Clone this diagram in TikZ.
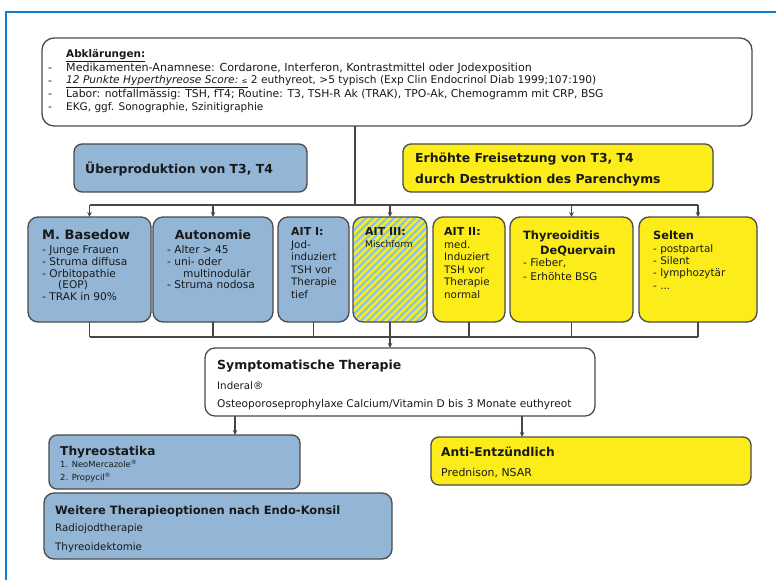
\documentclass[tikz,border=0pt]{standalone}
\usepackage{fontspec}
\setmainfont{DejaVu Sans}
\usetikzlibrary{arrows.meta}
\definecolor{boxblue}{RGB}{147,181,214}
\definecolor{boxyellow}{RGB}{252,236,25}
\definecolor{edgegray}{RGB}{75,75,75}
\definecolor{linegray}{RGB}{70,70,70}
\definecolor{stripeblue}{RGB}{140,198,222}
\definecolor{frameblue}{RGB}{15,125,210}
\definecolor{txtc}{RGB}{25,25,25}
\newcounter{txln}
\newcommand\txl[4]{\stepcounter{txln}\node[tl,font=#1] (txl\arabic{txln}) at (#2,#3) {#4};}
\newcommand\fs[1]{\fontsize{#1}{#1}\selectfont}
\begin{document}
\begin{tikzpicture}[x=1pt,y=-1pt,
  box/.style={draw=edgegray,line width=1.3pt,rounded corners=10pt,anchor=north west,inner sep=0pt,outer sep=0pt},
  bb/.style={box,fill=boxblue},
  yb/.style={box,fill=boxyellow},
  wb/.style={box,fill=white},
  conn/.style={draw=linegray,line width=1.1pt},
  arr/.style={conn,-{Stealth[length=5pt,width=4.5pt]}},
  tl/.style={anchor=base west,inner sep=0pt,text=txtc},
]
\useasboundingbox (0,0) rectangle (776,580);
\fill[white] (0,0) rectangle (776,580);
\draw[frameblue,line width=1.6pt] (6,580) -- (6,12) -- (776,12);

% boxes
\node[wb,rounded corners=12pt,minimum width=710pt,minimum height=88pt] (abk) at (42,38) {};
\node[bb,rounded corners=8pt,minimum width=233pt,minimum height=48pt] (ueber) at (74,144) {};
\node[yb,rounded corners=8pt,minimum width=310pt,minimum height=48pt] (erh) at (403,144) {};

\node[bb,minimum width=123pt,minimum height=105pt] (basedow) at (28,217) {};
\node[bb,minimum width=120pt,minimum height=105pt] (autonomie) at (153,217) {};
\node[bb,minimum width=71pt,minimum height=105pt] (aiti) at (278,217) {};
\node[yb,minimum width=74pt,minimum height=105pt,
  path picture={\foreach \i in {-112,-105,...,80}{\draw[stripeblue,line width=2.4pt] ([xshift=\i pt]path picture bounding box.south west) -- ++(130pt,130pt);}}] (aitiii) at (353,217) {};
\node[yb,minimum width=72pt,minimum height=105pt] (aitii) at (433,217) {};
\node[yb,minimum width=123pt,minimum height=105pt] (thyr) at (510,217) {};
\node[yb,minimum width=118pt,minimum height=105pt] (selten) at (639,217) {};

\node[wb,minimum width=390pt,minimum height=68pt] (symp) at (205,348) {};
\node[bb,rounded corners=8pt,minimum width=251pt,minimum height=54pt] (thyreo) at (49,435) {};
\node[bb,minimum width=348pt,minimum height=66pt] (weitere) at (44,493) {};
\node[yb,rounded corners=8pt,minimum width=320pt,minimum height=48pt] (anti) at (431,437) {};

% connectors
\coordinate (j1) at (355,205);
\draw[conn] (abk.south -| j1) -- (j1);
\draw[conn] (basedow.north |- j1) -- (selten.north |- j1);
\foreach \n in {basedow,autonomie,aitiii,thyr,selten} \draw[arr] (\n.north |- j1) -- (\n.north);

\coordinate (j2) at (390,337);
\foreach \n in {basedow,autonomie,aiti,aitii,thyr,selten} \draw[conn] (\n.south) -- (\n.south |- j2);
\draw[conn] (basedow.south |- j2) -- (selten.south |- j2);
\draw[arr] (aitiii.south) -- (symp.north -| aitiii.south);

\coordinate (a1) at (235,0);
\coordinate (a2) at (522,0);
\draw[arr] (symp.south -| a1) -- (thyreo.north -| a1);
\draw[arr] (symp.south -| a2) -- (anti.north -| a2);

% texts: Abklaerungen
\txl{\bfseries\fs{10.4}}{66}{58}{\underline{Abklärungen:}}
\txl{\fs{10.8}}{48}{71.5}{-}
\txl{\fs{11.1}}{66}{71.5}{Medikamenten-Anamnese: Cordarone, Interferon, Kontrastmittel oder Jodexposition}
\txl{\fs{10.8}}{48}{84.5}{-}
\txl{\fs{10.6}}{66}{84}{\underline{\textit{12 Punkte Hyperthyreose Score:}~{\fs{7}≤}} 2 euthyreot, >5 typisch (Exp Clin Endocrinol Diab 1999;107:190)}
\txl{\fs{10.8}}{48}{98}{-}
\txl{\fs{10.8}}{66}{98}{Labor: notfallmässig: TSH, fT4; Routine: T3, TSH-R Ak (TRAK), TPO-Ak, Chemogramm mit CRP, BSG}
\txl{\fs{10.8}}{48}{111}{-}
\txl{\fs{10.5}}{66}{111}{EKG, ggf. Sonographie, Szinitigraphie}

% headers
\txl{\bfseries\fs{12.4}}{85}{173.5}{Überproduktion von T3, T4}
\txl{\bfseries\fs{12.4}}{415}{162.5}{Erhöhte Freisetzung von T3, T4}
\txl{\bfseries\fs{12.4}}{415}{183.5}{durch Destruktion des Parenchyms}

% Basedow
\txl{\bfseries\fs{13}}{42}{239}{M. Basedow}
\txl{\fs{10.6}}{42}{253}{- Junge Frauen}
\txl{\fs{10.6}}{42}{265}{- Struma diffusa}
\txl{\fs{10.6}}{42}{277}{- Orbitopathie}
\txl{\fs{10.6}}{58}{288.5}{(EOP)}
\txl{\fs{10.6}}{42}{300}{- TRAK in 90\%}

% Autonomie
\node[tl,anchor=base,font=\bfseries\fs{12.5}] (autot) at (213,239) {Autonomie};
\txl{\fs{10.6}}{167}{253}{- Alter > 45}
\txl{\fs{10.6}}{167}{265}{- uni- oder}
\txl{\fs{10.6}}{183}{277}{multinodulär}
\txl{\fs{10.6}}{167}{288.5}{- Struma nodosa}

% AIT I
\txl{\bfseries\fs{11}}{291}{236}{AIT I:}
\txl{\fs{10.3}}{291}{248}{Jod-}
\txl{\fs{10.3}}{291}{260.6}{induziert}
\txl{\fs{10.3}}{291}{273.2}{TSH vor}
\txl{\fs{10.3}}{291}{285.8}{Therapie}
\txl{\fs{10.3}}{291}{298.4}{tief}

% AIT III
\txl{\bfseries\fs{11}}{365}{236}{AIT III:}
\txl{\fs{9.2}}{365}{247}{Mischform}

% AIT II
\txl{\bfseries\fs{11}}{444}{236}{AIT II:}
\txl{\fs{10.3}}{444}{248}{med.}
\txl{\fs{10.3}}{444}{260.6}{Induziert}
\txl{\fs{10.3}}{444}{273.2}{TSH vor}
\txl{\fs{10.3}}{444}{285.8}{Therapie}
\txl{\fs{10.3}}{444}{298.4}{normal}

% Thyreoiditis
\txl{\bfseries\fs{11.4}}{523}{239}{Thyreoiditis}
\txl{\bfseries\fs{11.4}}{540}{254}{DeQuervain}
\txl{\fs{10.6}}{523}{266}{- Fieber,}
\txl{\fs{10.6}}{523}{280.5}{- Erhöhte BSG}

% Selten
\txl{\bfseries\fs{11.3}}{653}{239}{Selten}
\txl{\fs{10.4}}{653}{252}{- postpartal}
\txl{\fs{10.4}}{653}{264.5}{- Silent}
\txl{\fs{10.4}}{653}{276.5}{- lymphozytär}
\txl{\fs{10.4}}{653}{289}{- ...}

% Symptomatische Therapie
\txl{\bfseries\fs{12.5}}{217}{369}{Symptomatische Therapie}
\txl{\fs{10.3}}{217}{389}{Inderal®}
\txl{\fs{10.6}}{217}{407}{Osteoporoseprophylaxe Calcium/Vitamin D bis 3 Monate euthyreot}

% Thyreostatika
\txl{\bfseries\fs{12.2}}{60}{455}{Thyreostatika}
\txl{\fs{8.4}}{60}{467.5}{1. NeoMercazole\textsuperscript{®}}
\txl{\fs{8.4}}{60}{480.5}{2. Propycil\textsuperscript{®}}

% Weitere
\txl{\bfseries\fs{11.5}}{55}{514}{Weitere Therapieoptionen nach Endo-Konsil}
\txl{\fs{10.3}}{55}{531}{Radiojodtherapie}
\txl{\fs{10.3}}{55}{550}{Thyreoidektomie}

% Anti
\txl{\bfseries\fs{12.2}}{441}{456.5}{Anti-Entzündlich}
\txl{\fs{10.9}}{441}{476}{Prednison, NSAR}
\end{tikzpicture}
\end{document}
